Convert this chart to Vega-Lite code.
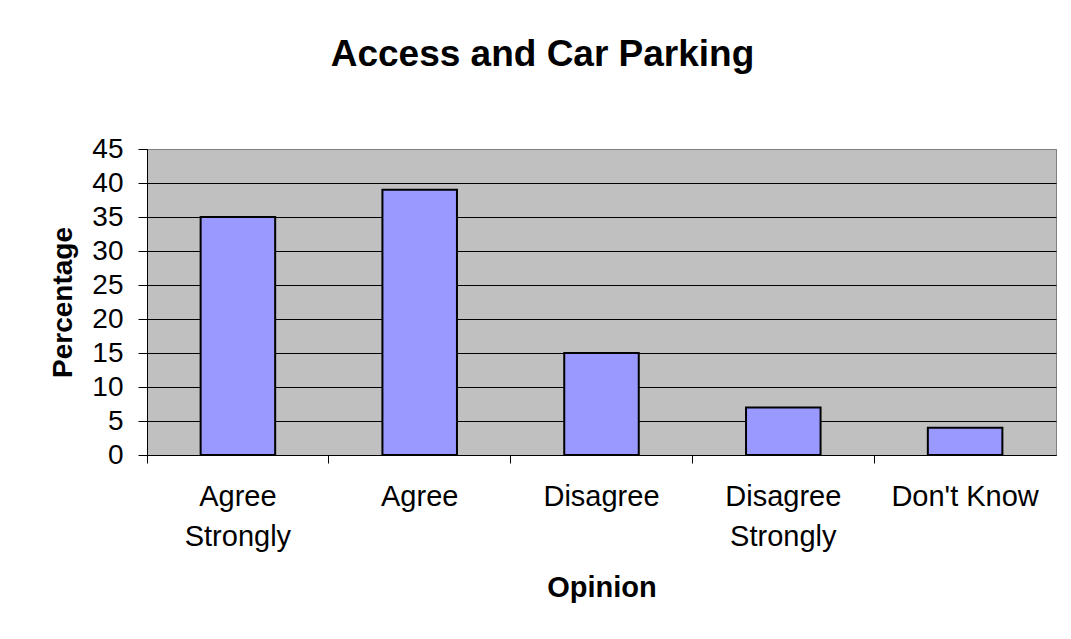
{
  "$schema": "https://vega.github.io/schema/vega-lite/v6.json",
  "autosize": "none",
  "width": 909,
  "height": 306,
  "padding": {"left": 147, "top": 149, "right": 15, "bottom": 184},
  "background": "white",
  "title": {
    "text": "Access and Car Parking",
    "font": "Liberation Sans",
    "fontSize": 37,
    "fontWeight": "bold",
    "color": "black",
    "anchor": "middle",
    "frame": "group",
    "dx": -59,
    "baseline": "alphabetic",
    "offset": 32
  },
  "data": {
    "values": [
      {"opinion": "Agree Strongly", "percentage": 35},
      {"opinion": "Agree", "percentage": 39},
      {"opinion": "Disagree", "percentage": 15},
      {"opinion": "Disagree Strongly", "percentage": 7},
      {"opinion": "Don't Know", "percentage": 4}
    ]
  },
  "mark": {"type": "bar", "fill": "#9999FF", "stroke": "black", "strokeWidth": 2, "width": {"band": 0.41}},
  "encoding": {
    "x": {
      "field": "opinion",
      "type": "nominal",
      "sort": null,
      "scale": {"paddingInner": 0, "paddingOuter": 0},
      "axis": {
        "title": "Opinion",
        "titleFont": "Liberation Sans",
        "titleFontSize": 29,
        "titleFontWeight": "bold",
        "titleColor": "black",
        "titlePadding": 22,
        "labelFont": "Liberation Sans",
        "labelFontSize": 29,
        "labelColor": "black",
        "labelAngle": 0,
        "labelAlign": "center",
        "labelBaseline": "top",
        "labelPadding": 19,
        "labelLineHeight": 40,
        "bandPosition": 0,
        "labelExpr": "indexof(datum.label, 'Strongly') > 0 ? split(datum.label, ' ') : datum.label",
        "tickSize": 8,
        "tickColor": "black",
        "domainColor": "black",
        "domainWidth": 1,
        "grid": false
      }
    },
    "y": {
      "field": "percentage",
      "type": "quantitative",
      "scale": {"domain": [0, 45], "nice": false},
      "axis": {
        "title": "Percentage",
        "values": [0, 5, 10, 15, 20, 25, 30, 35, 40, 45],
        "titleFont": "Liberation Sans",
        "titleFontSize": 28,
        "titleFontWeight": "bold",
        "titleColor": "black",
        "titlePadding": 14,
        "labelFont": "Liberation Sans",
        "labelFontSize": 28,
        "labelColor": "black",
        "labelPadding": 15,
        "tickSize": 9,
        "tickColor": "black",
        "domainColor": "black",
        "grid": true,
        "gridColor": {"condition": {"test": "datum.value == 45", "value": "#808080"}, "value": "black"},
        "gridWidth": 1,
        "gridOpacity": 1
      }
    }
  },
  "config": {
    "view": {"fill": "#C0C0C0", "stroke": "#808080", "strokeWidth": 1}
  }
}
